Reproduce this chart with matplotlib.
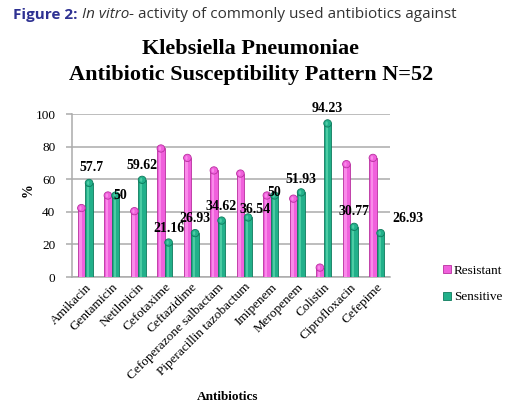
import matplotlib
matplotlib.use("Agg")
import matplotlib.pyplot as plt
import numpy as np
from matplotlib.patches import Ellipse
from matplotlib.text import Annotation

antibiotics = ["Amikacin", "Gentamicin", "Netilmicin", "Cefotaxime", "Ceftazidime",
               "Cefoperazone salbactam", "Piperacillin tazobactum", "Imipenem",
               "Meropenem", "Colistin", "Ciprofloxacin", "Cefepime"]
resistant = [42.3, 50, 40.38, 78.84, 73.07, 65.38, 63.46, 50, 48.07, 5.77, 69.23, 73.07]
sensitive = [57.7, 50, 59.62, 21.16, 26.93, 34.62, 36.54, 50, 51.93, 94.23, 30.77, 26.93]
sens_labels = ["57.7", "50", "59.62", "21.16", "26.93", "34.62", "36.54", "50",
               "51.93", "94.23", "30.77", "26.93"]
# label offsets in pixels relative to green bar top
label_off = [(2, 15), (5, 0), (0, 14), (0, 14), (0, 15), (0, 14), (7, 8), (0, 3),
             (0, 13), (0, 15), (0, 15), (27, 15)]

W, H = 506, 412
fig = plt.figure(figsize=(W / 100, H / 100), dpi=100)
fig.patch.set_facecolor("white")

serif = "Liberation Serif"

# header
hs = 11
t1 = fig.text(13 / W, 1 - 19 / H, "Figure 2:", family="Open Sans", fontweight="bold",
              color="#2e3192", fontsize=hs, va="baseline", ha="left")
a1 = Annotation(" In vitro", xy=(1, 0), xycoords=t1, xytext=(0, 0), textcoords="offset points",
                family="Open Sans", style="italic", color="#333333", fontsize=hs,
                va="bottom", ha="left")
fig.add_artist(a1)
a2 = Annotation("- activity of commonly used antibiotics against", xy=(1, 0), xycoords=a1,
                xytext=(0, 0), textcoords="offset points",
                family="Open Sans", color="#333333", fontsize=hs, va="bottom", ha="left")
fig.add_artist(a2)

# title
fig.text(251 / W, 1 - 49 / H, "Klebsiella Pneumoniae", family=serif, fontweight="bold",
         fontsize=16, ha="center", va="center")
fig.text(251 / W, 1 - 75 / H, "Antibiotic Susceptibility Pattern N=52", family=serif,
         fontweight="bold", fontsize=16, ha="center", va="center")

left, right, bottom_px, top_px = 72, 390, 277, 114
ax = fig.add_axes([left / W, 1 - bottom_px / H, (right - left) / W, (bottom_px - top_px) / H])
ax.set_xlim(-0.5, len(antibiotics) - 0.5)
ax.set_ylim(0, 100)

x = np.arange(len(antibiotics))
bw = 0.29
off = 0.145
pink, pink_dark, pink_light = "#f060dc", "#b8309f", "#ff9cf0"
green, green_dark, green_light = "#22b08a", "#0f7a5c", "#5fd8b0"

ax.set_yticks([0, 20, 40, 60, 80, 100])
ax.yaxis.grid(True, color="#ababab", linewidth=1.1, zorder=0)
ax.set_axisbelow(True)

def draw(xc, vals, c, cd, cl, label):
    ax.bar(xc, vals, width=bw, color=c, edgecolor=cd, linewidth=0.6, zorder=3, label=label)
    ax.bar(xc - bw * 0.12, vals, width=bw * 0.3, color=cl, linewidth=0, zorder=4, alpha=0.7)
    for xi, v in zip(xc, vals):
        ax.add_patch(Ellipse((xi, v), bw, 4.5, facecolor=c, edgecolor=cd, linewidth=0.6, zorder=5))
        ax.add_patch(Ellipse((xi - bw * 0.12, v), bw * 0.3, 2.5, facecolor=cl, linewidth=0,
                             zorder=6, alpha=0.7))

draw(x - off, resistant, pink, pink_dark, pink_light, "Resistant")
draw(x + off, sensitive, green, green_dark, green_light, "Sensitive")

for xi, v, lab, (dx, dy) in zip(x + off, sensitive, sens_labels, label_off):
    ax.annotate(lab, xy=(xi, v), xytext=(dx, dy), textcoords="offset pixels",
                ha="center", va="center", family=serif, fontweight="bold", fontsize=10,
                zorder=10, annotation_clip=False)

for s in ["top", "right"]:
    ax.spines[s].set_visible(False)
ax.spines["left"].set_color("#ababab")
ax.spines["bottom"].set_color("#ababab")
ax.spines["left"].set_linewidth(1.1)
ax.spines["bottom"].set_linewidth(1.1)
ax.tick_params(axis="y", colors="#ababab", labelcolor="black", length=4, width=1.1,
               labelsize=9.5, pad=8)
ax.tick_params(axis="x", length=0, pad=3)
for lbl in ax.get_yticklabels():
    lbl.set_family(serif)
ax.set_xticks(x)
ax.set_xticklabels(antibiotics, rotation=45, ha="right", rotation_mode="anchor",
                   family=serif, fontsize=9.5)

fig.text(28 / W, 1 - 190 / H, "%", family=serif, fontweight="bold", fontsize=10,
         rotation=90, ha="center", va="center")
fig.text(228 / W, 1 - 397 / H, "Antibiotics", family=serif, fontweight="bold", fontsize=9.5,
         ha="center", va="center")

h, l = ax.get_legend_handles_labels()
leg = fig.legend(h, l, loc="upper left", bbox_to_anchor=(431 / W, 1 - 253 / H),
                 frameon=False, handlelength=0.6, handleheight=0.6, handletextpad=0.25,
                 labelspacing=1.1, prop={"family": serif, "size": 9.5})

fig.savefig("out.png", dpi=100)
